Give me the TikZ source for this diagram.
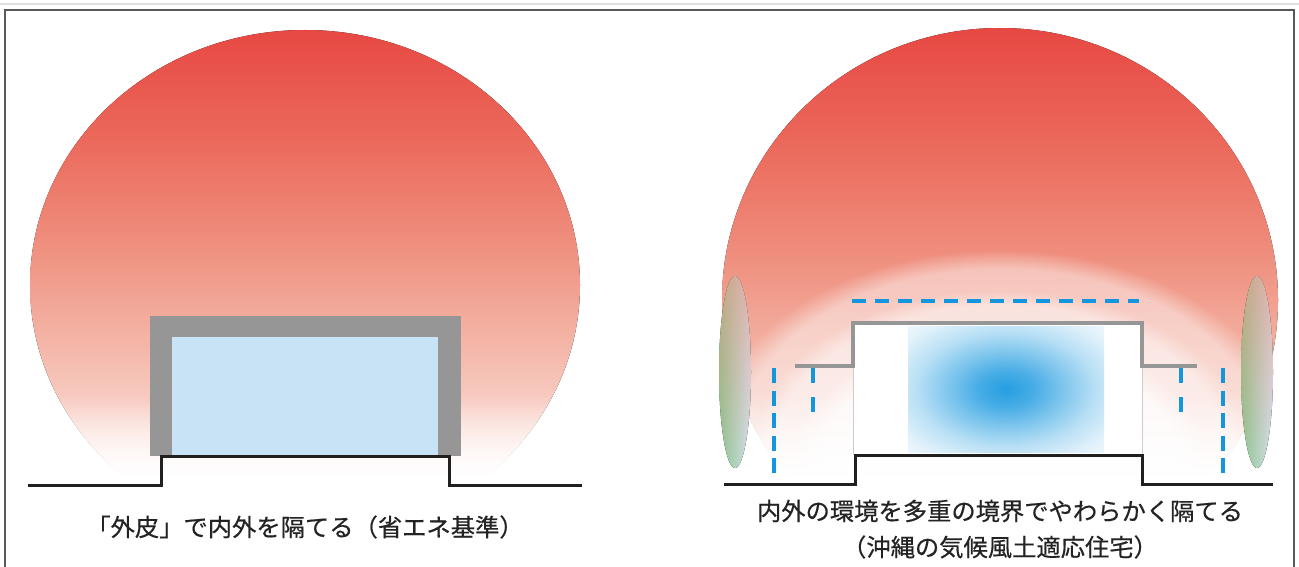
\documentclass[tikz,border=0pt]{standalone}
\usepackage{fontspec}
\setmainfont{Noto Sans CJK JP}[FakeBold=0.5]
\usetikzlibrary{fadings}

% Màu dùng chung
\definecolor{do0}{RGB}{231,72,66}
\definecolor{do1}{RGB}{235,106,92}
\definecolor{do2}{RGB}{239,143,126}
\definecolor{do3}{RGB}{243,175,160}
\definecolor{do4}{RGB}{247,202,192}
\definecolor{do5}{RGB}{251,228,222}
\definecolor{xanh}{RGB}{38,158,225}
\definecolor{xanhnhat}{RGB}{199,227,245}
\definecolor{xam}{RGB}{150,150,150}
\definecolor{xamnhat}{RGB}{205,205,205}
\definecolor{netdut}{RGB}{20,150,222}
\definecolor{la}{RGB}{140,198,142}
\definecolor{lanhat}{RGB}{212,226,240}
\definecolor{chu}{RGB}{35,35,35}

% Nhiệt từ trên xuống
\pgfdeclareverticalshading{nhiet}{100bp}{
  color(0bp)=(white); color(30bp)=(white); color(34bp)=(do5);
  color(39bp)=(do4); color(46bp)=(do3); color(54bp)=(do2);
  color(64bp)=(do1); color(75bp)=(do0); color(100bp)=(do0)}
% Vùng mát bên trong nhà
\pgfdeclareradialshading{mat}{\pgfpoint{0bp}{0bp}}{
  color(0bp)=(xanh); color(7bp)=(xanh!85!white); color(15bp)=(xanh!58!white);
  color(23bp)=(xanh!32!white); color(31bp)=(xanh!14!white); color(42bp)=(white);
  color(50bp)=(white)}
% Lớp trắng phủ dần xuống mặt đất
\tikzfading[name=tatdan, top color=transparent!100, bottom color=transparent!0]
% Sắc đỏ phủ phần trên của cây
\tikzfading[name=phutren, top color=transparent!45, bottom color=transparent!100]

\begin{document}
\begin{tikzpicture}[x=1pt, y=-1pt]
    \useasboundingbox (0,0) rectangle (1299,567);

    \tikzset{
        c_heat/.style={shading=nhiet},
        c_fade/.style={fill=white, path fading=tatdan},
        c_tree/.style={left color=la, right color=lanhat},
        c_ground/.style={line width=3pt, color=chu!90!black},
        c_roof/.style={line width=4pt, color=xam},
        c_wall/.style={line width=1pt, color=xamnhat},
        c_dash/.style={line width=4pt, color=netdut},
        c_label/.style={font=\fontsize{24.3}{30}\selectfont, text=chu, inner sep=0pt}
    }

    % Khung ngoài
    \draw[gray!25, line width=1.5pt] (0,4) -- (1299,4);
    \draw[black!65, line width=2.5pt] (5,567) -- (5,10) -- (1294,10) -- (1294,567);

    % ===== Hình trái: lớp vỏ ngoài =====
    \fill[c_heat] (305,285) ellipse [x radius=275, y radius=255];
    \fill[c_fade] (20,395) rectangle (590,478);
    \fill[white] (20,477) rectangle (590,545);
    \fill[xam] (150,316) rectangle (461,456);
    \fill[xanhnhat] (172,337) rectangle (438,456);
    \draw[c_ground] (28,485) -- (161,485) -- (161,456) -- (449,456) -- (449,485) -- (582,485);
    \node[c_label] (nhanTrai) at (305,527) {「外皮」で内外を隔てる（省エネ基準）};

    % ===== Hình phải: nhiều lớp ranh giới =====
    \fill[c_heat] (1000,300) ellipse [x radius=278, y radius=272];
    % Các vòng sáng bao quanh nhà
    \fill[white, opacity=0.45, path fading=circle with fuzzy edge 10 percent]
        (1000,445) ellipse [x radius=290, y radius=195];
    \fill[white, opacity=0.45, path fading=circle with fuzzy edge 10 percent]
        (1000,445) ellipse [x radius=245, y radius=155];
    \fill[white, opacity=0.7, path fading=circle with fuzzy edge 15 percent]
        (1000,455) ellipse [x radius=205, y radius=120];
    \fill[c_fade] (712,395) rectangle (1288,478);
    \fill[white] (712,477) rectangle (1288,575);

    % Cây xanh hai bên
    \foreach \cx in {735,1257} {
        \fill[c_tree] (\cx,372) ellipse [x radius=16, y radius=96];
        \fill[do2, path fading=phutren] (\cx,372) ellipse [x radius=16, y radius=96];
    }

    % Thân nhà và vùng mát
    \fill[white] (853,323) rectangle (1142,455);
    \fill[shading=mat] (908,326) rectangle (1104,452);
    \draw[c_wall] (853,366) -- (853,455);
    \draw[c_wall] (1142,366) -- (1142,455);
    \draw[c_roof] (795,366) -- (853,366) -- (853,323) -- (1142,323) -- (1142,366) -- (1197,366);
    \draw[c_ground] (724,484) -- (855,484) -- (855,455) -- (1142,455) -- (1142,484) -- (1273,484);

    % Các đường ranh giới (nét đứt)
    \draw[c_dash, dash pattern=on 14pt off 9pt] (852,301) -- (1139,301);
    \foreach \x/\y in {774/473, 1223/473} {
        \draw[c_dash, dash pattern=on 15pt off 7.5pt] (\x,368) -- (\x,\y);
    }
    \foreach \x/\y in {813/413, 1181/413} {
        \draw[c_dash, dash pattern=on 15pt off 14pt] (\x,368) -- (\x,\y);
    }

    \node[c_label] (nhanPhai1) at (1000,511) {内外の環境を多重の境界でやわらかく隔てる};
    \node[c_label] (nhanPhai2) at (1000,547) {（沖縄の気候風土適応住宅）};
\end{tikzpicture}
\end{document}
